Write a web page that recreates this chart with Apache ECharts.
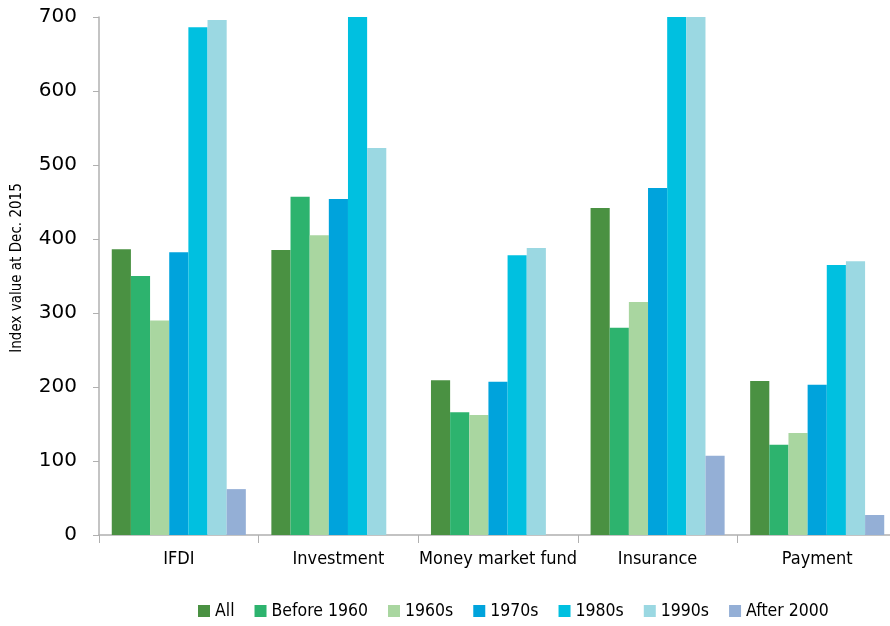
<!DOCTYPE html>
<html>
<head>
<meta charset="utf-8">
<script src="https://cdn.jsdelivr.net/npm/echarts@6/dist/echarts.min.js"></script>
<style>
  html, body { margin: 0; padding: 0; background: #fff; }
  #chart { width: 890px; height: 626px; }
</style>
</head>
<body>
<div id="chart"></div>
<script>
// categories and series
var categories = ['IFDI', 'Investment', 'Money market fund', 'Insurance', 'Payment'];
var seriesNames = ['All', 'Before 1960', '1960s', '1970s', '1980s', '1990s', 'After 2000'];
var colors = ['#4a9142', '#2db36e', '#a9d6a0', '#00a3dc', '#00c0e0', '#9bd8e2', '#94afd6'];

// values (bars above 700 are cut off in the original)
var allValues = [386, 385, 209, 442, 208];
var before1960 = [350, 457, 166, 280, 122];
var s1960s = [290, 405, 162, 315, 138];
var s1970s = [382, 454, 207, 469, 203];
var s1980s = [686, 760, 378, 760, 365];
var s1990s = [696, 523, 388, 760, 370];
var after2000 = [62, null, null, 107, 27];

var yTicks = [0, 100, 200, 300, 400, 500, 600, 700];

var values = [allValues, before1960, s1960s, s1970s, s1980s, s1990s, after2000];

var narrow = 'DejaVu Sans Condensed, DejaVu Sans, sans-serif';

var chart = echarts.init(document.getElementById('chart'));

var series = [];
for (var i = 0; i < seriesNames.length; i++) {
  series.push({
    name: seriesNames[i],
    type: 'bar',
    data: values[i],
    barGap: 0,
    barCategoryGap: '16%',
    clip: true,
    itemStyle: { color: colors[i] }
  });
}

var option = {
  animation: false,
  backgroundColor: '#fff',
  grid: {
    left: 99,
    right: -7,
    top: 17,
    bottom: 91,
    outerBoundsMode: 'none'
  },
  legend: {
    bottom: 1,
    left: 193,
    itemWidth: 12,
    itemHeight: 12,
    itemGap: 20,
    icon: 'rect',
    textStyle: {
      fontFamily: narrow,
      fontSize: 17.5,
      color: '#000'
    },
    data: seriesNames
  },
  xAxis: {
    type: 'category',
    data: categories,
    axisLine: { lineStyle: { color: '#b0b0b0', width: 1.5 } },
    axisTick: { show: true, length: 8, lineStyle: { color: '#b0b0b0' } },
    axisLabel: {
      interval: 0,
      margin: 15,
      fontFamily: narrow,
      fontSize: 18,
      color: '#000'
    }
  },
  yAxis: {
    type: 'value',
    min: 0,
    max: 700,
    interval: 100,
    name: 'Index value at Dec. 2015',
    nameLocation: 'middle',
    nameGap: 74,
    nameRotate: 90,
    nameTextStyle: {
      fontFamily: narrow,
      fontSize: 15,
      color: '#000',
      padding: [0, 0, 0, 16]
    },
    axisLine: { show: true, lineStyle: { color: '#b0b0b0', width: 1.5 } },
    axisTick: { show: true, length: 6, lineStyle: { color: '#b0b0b0' } },
    splitLine: { show: false },
    axisLabel: {
      margin: 22,
      fontFamily: 'DejaVu Sans, sans-serif',
      fontSize: 20,
      color: '#000',
      formatter: function (v) {
        return yTicks.indexOf(v) >= 0 ? String(v) : '';
      }
    }
  },
  series: series
};

chart.setOption(option);
</script>
</body>
</html>
